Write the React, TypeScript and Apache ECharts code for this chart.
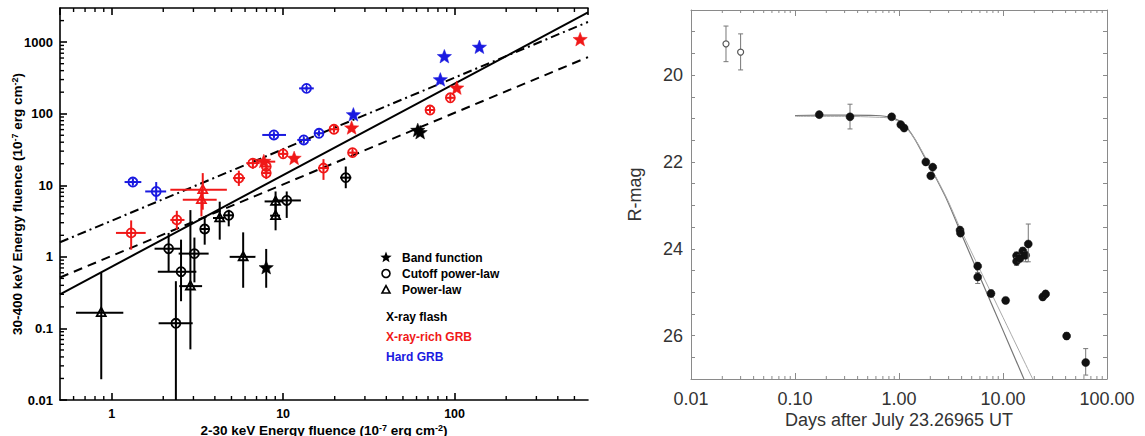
import React, { useEffect, useRef } from 'react';
import * as echarts from 'echarts';

// ---------- Left panel data: [x, y, xLow, xHigh, yLow, yHigh] ----------
const xrfBand = [
  [7.97, 0.7, 7.6, 8.3, 0.37, 1.29],
  [61, 58, 59, 63, 55, 61],
  [63, 54, 61, 65, 51, 57],
];
const xrfCutoff = [
  [2.37, 0.118, 1.88, 2.97, 0.01, 0.457],
  [2.54, 0.62, 1.86, 3.12, 0.24, 1.74],
  [2.15, 1.3, 1.78, 2.55, 0.63, 2.16],
  [3.04, 1.11, 2.46, 3.68, 0.44, 1.86],
  [3.49, 2.45, 3.3, 3.7, 1.48, 3.68],
  [4.82, 3.8, 4.47, 5.16, 2.67, 4.55],
  [10.5, 6.14, 8.8, 12.7, 3.5, 8.2],
  [23.2, 12.8, 21.5, 25, 9.1, 18.3],
];
const xrfPowerLaw = [
  [0.87, 0.166, 0.62, 1.17, 0.0195, 0.6],
  [2.88, 0.39, 2.48, 3.37, 0.051, 4.5],
  [4.27, 3.49, 3.9, 4.55, 1.74, 5.9],
  [5.85, 1.0, 4.88, 6.9, 0.37, 2.2],
  [9.04, 5.95, 7.8, 9.97, 4.1, 8.2],
  [9.04, 3.76, 8.4, 9.6, 2.35, 5.65],
];
const richBand = [
  [7.72, 21.4, 7.06, 9.0, 19, 24],
  [11.6, 23.6, 11, 12.2, 21.5, 26],
  [25.1, 62.7, 24, 26.5, 57, 69],
  [103, 226, 98, 108, 210, 242],
  [540, 1077, 520, 560, 1020, 1140],
];
const richCutoff = [
  [1.3, 2.16, 1.06, 1.58, 1.26, 3.23],
  [2.4, 3.28, 2.2, 2.66, 2.4, 4.4],
  [5.52, 12.6, 5.1, 6.0, 9.8, 16],
  [6.66, 20.4, 6.1, 7.3, 17, 24],
  [7.98, 18.3, 7.5, 8.5, 16, 21],
  [7.98, 14.8, 7.6, 8.4, 12.2, 16.8],
  [10.0, 27.5, 9.4, 10.6, 24.5, 31],
  [17.2, 17.4, 16, 18.5, 11.9, 23.2],
  [25.4, 28.6, 24, 27, 26, 31.5],
  [19.8, 60.6, 18.6, 21, 55, 67],
  [71.9, 112.6, 68, 76, 102, 124],
  [94.5, 167, 90, 99, 152, 184],
];
const richPowerLaw = [
  [3.4, 8.65, 2.2, 4.7, 4.56, 14.8],
  [3.34, 6.28, 2.6, 4.1, 3.68, 8.9],
];
const hardBand = [
  [25.7, 95.9, 25.7, 25.7, 95.9, 95.9],
  [82.6, 295, 82.6, 82.6, 295, 295],
  [87.2, 622, 87.2, 87.2, 622, 622],
  [139.6, 841, 139.6, 139.6, 841, 841],
];
const hardCutoff = [
  [1.33, 11.1, 1.19, 1.49, 10, 12.3],
  [1.82, 8.2, 1.57, 2.08, 6.1, 11.1],
  [8.84, 50.5, 7.56, 10.4, 46, 55],
  [13.7, 226, 12.4, 15.1, 210, 243],
  [13.2, 43, 12.1, 14.5, 39, 47],
  [16.2, 53.3, 15.3, 17.2, 49, 58],
];

// fitted relations (end points)
const fitSolid = [[0.5, 0.3], [600, 2600]];
const fitDashed = [[0.5, 0.515], [600, 617]];
const fitDashDot = [[0.5, 1.6], [600, 1914]];

// tick values
const leftMinorX = [0.6, 0.7, 0.8, 0.9, 2, 3, 4, 5, 6, 7, 8, 9, 20, 30, 40, 50, 60, 70, 80, 90, 200, 300, 400, 500];
const leftMinorY = [0.02, 0.03, 0.04, 0.05, 0.06, 0.07, 0.08, 0.09, 0.2, 0.3, 0.4, 0.5, 0.6, 0.7, 0.8, 0.9,
  2, 3, 4, 5, 6, 7, 8, 9, 20, 30, 40, 50, 60, 70, 80, 90, 200, 300, 400, 500, 600, 700, 800, 900, 2000];
const rightMinorX = [0.02, 0.03, 0.04, 0.05, 0.06, 0.07, 0.08, 0.09, 0.2, 0.3, 0.4, 0.5, 0.6, 0.7, 0.8, 0.9,
  2, 3, 4, 5, 6, 7, 8, 9, 20, 30, 40, 50, 60, 70, 80, 90];

// ---------- Right panel data: [days, mag, magLow, magHigh] ----------
const earlyPoints = [
  [0.0217, 19.28, 18.87, 19.69],
  [0.03, 19.47, 19.05, 19.88],
];
const lightCurve = [
  [0.171, 20.91, 20.84, 20.98],
  [0.338, 20.96, 20.67, 21.24],
  [0.85, 20.96, 20.9, 21.02],
  [1.04, 21.14, 21.08, 21.2],
  [1.12, 21.22, 21.16, 21.28],
  [1.81, 22.0, 21.94, 22.06],
  [2.11, 22.12, 22.06, 22.18],
  [2.02, 22.32, 22.26, 22.38],
  [3.86, 23.57, 23.5, 23.64],
  [3.9, 23.64, 23.57, 23.71],
  [5.71, 24.4, 24.32, 24.48],
  [5.71, 24.65, 24.55, 24.8],
  [7.67, 25.03, 24.95, 25.11],
  [10.6, 25.19, 25.12, 25.26],
  [13.5, 24.16, 24.08, 24.24],
  [13.5, 24.29, 24.2, 24.38],
  [14.6, 24.22, 24.14, 24.3],
  [15.5, 24.05, 23.97, 24.13],
  [16.5, 24.15, 24.07, 24.3],
  [17.5, 23.89, 23.43, 24.3],
  [24.1, 25.11, 25.04, 25.18],
  [25.7, 25.04, 24.97, 25.11],
  [40.9, 26.01, 25.93, 26.09],
  [62.4, 26.62, 26.3, 26.91],
];
const modelA = [[0.1, 20.93], [0.3, 20.92], [0.6, 20.93], [0.85, 20.98], [1.1, 21.12], [1.4, 21.45],
  [1.8, 21.93], [2.3, 22.4], [2.9, 22.88], [4, 23.67], [6, 24.65], [10, 25.88], [15.9, 27]];
const modelB = [[0.1, 20.95], [0.3, 20.95], [0.6, 20.97], [0.85, 21.0], [1.1, 21.15], [1.4, 21.45],
  [1.8, 21.9], [2.3, 22.38], [2.9, 22.85], [4, 23.6], [6, 24.48], [10, 25.58], [19.3, 27]];

const BLACK = '#000';
const RED = '#f01818';
const BLUE = '#1a1ae0';
const FONT = "'Liberation Sans', Arial, Helvetica, sans-serif";

function starPts(cx: number, cy: number, R: number, r: number) {
  const pts: number[][] = [];
  for (let i = 0; i < 10; i++) {
    const a = -Math.PI / 2 + (i * Math.PI) / 5;
    const rad = i % 2 === 0 ? R : r;
    pts.push([cx + rad * Math.cos(a), cy + rad * Math.sin(a)]);
  }
  return pts;
}
function triPts(cx: number, cy: number, s: number) {
  return [[cx, cy - s * 1.1], [cx - s, cy + s * 0.75], [cx + s, cy + s * 0.75]];
}

function markerSeries(data: number[][], color: string, shape: string) {
  return {
    type: 'custom',
    xAxisIndex: 0,
    yAxisIndex: 0,
    silent: true,
    z: 5,
    encode: { x: 0, y: 1 },
    data,
    renderItem: (params: any, api: any) => {
      const x = api.value(0), y = api.value(1);
      const c = api.coord([x, y]);
      const l = api.coord([api.value(2), y]);
      const r = api.coord([api.value(3), y]);
      const b = api.coord([x, api.value(4)]);
      const t = api.coord([x, api.value(5)]);
      const st = { stroke: color, lineWidth: 2, fill: 'none' };
      const children: any[] = [
        { type: 'line', shape: { x1: l[0], y1: c[1], x2: r[0], y2: c[1] }, style: st },
        { type: 'line', shape: { x1: c[0], y1: t[1], x2: c[0], y2: b[1] }, style: st },
      ];
      if (shape === 'circle') {
        children.push({ type: 'circle', shape: { cx: c[0], cy: c[1], r: 4.5 }, style: { stroke: color, lineWidth: 1.8, fill: 'none' } });
        children.push({ type: 'line', shape: { x1: c[0] - 4.5, y1: c[1], x2: c[0] + 4.5, y2: c[1] }, style: { stroke: color, lineWidth: 1.2 } });
        children.push({ type: 'line', shape: { x1: c[0], y1: c[1] - 4.5, x2: c[0], y2: c[1] + 4.5 }, style: { stroke: color, lineWidth: 1.2 } });
      } else if (shape === 'triangle') {
        children.push({ type: 'polygon', shape: { points: triPts(c[0], c[1], 4.5) }, style: { stroke: color, lineWidth: 1.8, fill: 'none' } });
      } else {
        children.push({ type: 'polygon', shape: { points: starPts(c[0], c[1], 7.5, 3.2) }, style: { fill: color, stroke: color, lineWidth: 0.5 } });
      }
      return { type: 'group', children };
    },
  };
}

function isDecade(v: number) {
  const lg = Math.log10(v);
  return Math.abs(lg - Math.round(lg)) < 1e-6;
}
function decadeLabel(v: number) {
  if (!isDecade(v)) return '';
  const n = Math.round(Math.log10(v));
  if (n >= 0) return String(Math.pow(10, n));
  return (Math.pow(10, n)).toFixed(-n);
}

function tickSeries(values: number[], axis: 'x' | 'y', xi: number, yi: number, len: number, color: string, lw: number, both: boolean) {
  return {
    type: 'custom',
    xAxisIndex: xi,
    yAxisIndex: yi,
    silent: true,
    z: 6,
    encode: { x: 0, y: 1 },
    data: values.map((v) => (axis === 'x' ? [v, yi === 0 ? 1 : 20] : [1, v])),
    renderItem: (params: any, api: any) => {
      const cs = params.coordSys;
      const p = api.coord([api.value(0), api.value(1)]);
      const st = { stroke: color, lineWidth: lw };
      const ch: any[] = [];
      if (axis === 'x') {
        const yb = cs.y + cs.height;
        ch.push({ type: 'line', shape: { x1: p[0], y1: yb, x2: p[0], y2: yb - len }, style: st });
        if (both) ch.push({ type: 'line', shape: { x1: p[0], y1: cs.y, x2: p[0], y2: cs.y + len }, style: st });
      } else {
        ch.push({ type: 'line', shape: { x1: cs.x, y1: p[1], x2: cs.x + len, y2: p[1] }, style: st });
        if (both) ch.push({ type: 'line', shape: { x1: cs.x + cs.width, y1: p[1], x2: cs.x + cs.width - len, y2: p[1] }, style: st });
      }
      return { type: 'group', children: ch };
    },
  };
}

const supRich = {
  n: { fontSize: 13.5, fontWeight: 'bold', fontFamily: FONT, color: BLACK, lineHeight: 14 },
  s: { fontSize: 9, fontWeight: 'bold', fontFamily: FONT, color: BLACK, lineHeight: 8, verticalAlign: 'top' },
};

function buildOption() {
  const leftAxisLine = { show: true, lineStyle: { color: BLACK, width: 1.6 } };
  const rightAxisLine = { show: true, lineStyle: { color: '#8a8a8a', width: 1 } };
  return {
    animation: false,
    backgroundColor: '#fff',
    grid: [
      { left: 60, top: 8, width: 528, height: 392, containLabel: false, outerBoundsMode: 'none' },
      { left: 691, top: 10, width: 416, height: 369, containLabel: false, outerBoundsMode: 'none' },
    ],
    xAxis: [
      {
        type: 'log', gridIndex: 0, min: 0.5, max: 600, position: 'bottom',
        axisLine: leftAxisLine,
        axisTick: { show: true, inside: true, length: 7, lineStyle: { color: BLACK, width: 1.6 } },
        splitLine: { show: false },
        axisLabel: { formatter: decadeLabel, fontSize: 12.5, fontWeight: 'bold', fontFamily: FONT, color: BLACK, margin: 7, showMinLabel: false, showMaxLabel: false },
        name: '{n|2-30 keV Energy fluence (10}{s|-7}{n| erg cm}{s|-2}{n|)}',
        nameLocation: 'middle', nameGap: 23, nameMoveOverlap: false,
        nameTextStyle: { rich: supRich },
      },
      {
        type: 'log', gridIndex: 0, min: 0.5, max: 600, position: 'top',
        axisLine: leftAxisLine,
        axisTick: { show: true, inside: true, length: 7, lineStyle: { color: BLACK, width: 1.6 } },
        splitLine: { show: false },
        axisLabel: { show: false },
      },
      {
        type: 'log', gridIndex: 1, min: 0.01, max: 100, position: 'bottom',
        axisLine: rightAxisLine,
        axisTick: { show: true, inside: true, length: 6, lineStyle: { color: '#8a8a8a', width: 1 } },
        splitLine: { show: false },
        axisLabel: { formatter: (v: number) => (isDecade(v) ? v.toFixed(2) : ''), fontSize: 18, fontFamily: FONT, color: '#333', margin: 11 },
        name: 'Days after July 23.26965 UT',
        nameLocation: 'middle', nameGap: 32, nameMoveOverlap: false,
        nameTextStyle: { fontSize: 18, fontFamily: FONT, color: '#333' },
      },
      {
        type: 'log', gridIndex: 1, min: 0.01, max: 100, position: 'top',
        axisLine: rightAxisLine,
        axisTick: { show: true, inside: true, length: 6, lineStyle: { color: '#8a8a8a', width: 1 } },
        splitLine: { show: false },
        axisLabel: { show: false },
      },
    ],
    yAxis: [
      {
        type: 'log', gridIndex: 0, min: 0.01, max: 3000,
        axisLine: leftAxisLine,
        axisTick: { show: true, inside: true, length: 7, lineStyle: { color: BLACK, width: 1.6 } },
        splitLine: { show: false },
        axisLabel: { formatter: decadeLabel, fontSize: 13, fontWeight: 'bold', fontFamily: FONT, color: BLACK, margin: 7, showMaxLabel: false },
        name: '{n|30-400 keV Energy fluence (10}{s|-7}{n| erg cm}{s|-2}{n|)}',
        nameLocation: 'middle', nameGap: 36, nameRotate: 90, nameMoveOverlap: false,
        nameTextStyle: { rich: supRich },
      },
      {
        type: 'value', gridIndex: 1, min: 18.5, max: 27, interval: 0.5, inverse: true, position: 'left',
        axisLine: rightAxisLine,
        axisTick: { show: true, inside: true, length: 4, lineStyle: { color: '#8a8a8a', width: 1 } },
        splitLine: { show: false },
        axisLabel: { interval: 0, formatter: (v: number) => (Math.abs(v % 2) < 1e-9 ? String(v) : ''), fontSize: 18, fontFamily: FONT, color: '#333', margin: 8 },
        name: 'R-mag',
        nameLocation: 'middle', nameGap: 47, nameRotate: 90, nameMoveOverlap: false,
        nameTextStyle: { fontSize: 18, fontFamily: FONT, color: '#333' },
      },
      {
        type: 'value', gridIndex: 1, min: 18.5, max: 27, interval: 0.5, inverse: true, position: 'right',
        axisLine: rightAxisLine,
        axisTick: { show: true, inside: true, length: 4, lineStyle: { color: '#8a8a8a', width: 1 } },
        splitLine: { show: false },
        axisLabel: { show: false },
      },
    ],
    series: [
      { type: 'line', xAxisIndex: 0, yAxisIndex: 0, data: fitSolid, showSymbol: false, silent: true, lineStyle: { color: BLACK, width: 2 } },
      { type: 'line', xAxisIndex: 0, yAxisIndex: 0, data: fitDashed, showSymbol: false, silent: true, lineStyle: { color: BLACK, width: 2, type: [9, 6] } },
      { type: 'line', xAxisIndex: 0, yAxisIndex: 0, data: fitDashDot, showSymbol: false, silent: true, lineStyle: { color: BLACK, width: 2, type: [9, 4, 2, 4] } },
      markerSeries(xrfBand, BLACK, 'star'),
      markerSeries(xrfCutoff, BLACK, 'circle'),
      markerSeries(xrfPowerLaw, BLACK, 'triangle'),
      markerSeries(richCutoff, RED, 'circle'),
      markerSeries(richPowerLaw, RED, 'triangle'),
      markerSeries(richBand, RED, 'star'),
      markerSeries(hardCutoff, BLUE, 'circle'),
      markerSeries(hardBand, BLUE, 'star'),
      tickSeries(leftMinorX, 'x', 0, 0, 4, BLACK, 1.4, true),
      tickSeries(leftMinorY, 'y', 0, 0, 4, BLACK, 1.4, false),
      tickSeries(rightMinorX, 'x', 2, 1, 3, '#8a8a8a', 1, true),
      { type: 'line', xAxisIndex: 2, yAxisIndex: 1, data: modelA, smooth: 0.3, showSymbol: false, silent: true, lineStyle: { color: '#777', width: 1.2 } },
      { type: 'line', xAxisIndex: 2, yAxisIndex: 1, data: modelB, smooth: 0.3, showSymbol: false, silent: true, lineStyle: { color: '#aaa', width: 1 } },
      {
        type: 'custom', xAxisIndex: 2, yAxisIndex: 1, silent: true, z: 5, encode: { x: 0, y: 1 },
        data: earlyPoints,
        renderItem: (params: any, api: any) => {
          const x = api.value(0);
          const c = api.coord([x, api.value(1)]);
          const t = api.coord([x, api.value(2)]);
          const b = api.coord([x, api.value(3)]);
          return {
            type: 'group', children: [
              { type: 'line', shape: { x1: c[0], y1: t[1], x2: c[0], y2: b[1] }, style: { stroke: '#777', lineWidth: 1 } },
              { type: 'line', shape: { x1: c[0] - 2.5, y1: t[1], x2: c[0] + 2.5, y2: t[1] }, style: { stroke: '#777', lineWidth: 1 } },
              { type: 'line', shape: { x1: c[0] - 2.5, y1: b[1], x2: c[0] + 2.5, y2: b[1] }, style: { stroke: '#777', lineWidth: 1 } },
              { type: 'circle', shape: { cx: c[0], cy: c[1], r: 3 }, style: { fill: '#fff', stroke: '#555', lineWidth: 1.2 } },
            ],
          };
        },
      },
      {
        type: 'custom', xAxisIndex: 2, yAxisIndex: 1, silent: true, z: 5, encode: { x: 0, y: 1 },
        data: lightCurve,
        renderItem: (params: any, api: any) => {
          const x = api.value(0);
          const c = api.coord([x, api.value(1)]);
          const t = api.coord([x, api.value(2)]);
          const b = api.coord([x, api.value(3)]);
          return {
            type: 'group', children: [
              { type: 'line', shape: { x1: c[0], y1: t[1], x2: c[0], y2: b[1] }, style: { stroke: '#777', lineWidth: 1 } },
              { type: 'line', shape: { x1: c[0] - 2.5, y1: t[1], x2: c[0] + 2.5, y2: t[1] }, style: { stroke: '#777', lineWidth: 1 } },
              { type: 'line', shape: { x1: c[0] - 2.5, y1: b[1], x2: c[0] + 2.5, y2: b[1] }, style: { stroke: '#777', lineWidth: 1 } },
              { type: 'circle', shape: { cx: c[0], cy: c[1], r: 4 }, style: { fill: '#111', stroke: '#111', lineWidth: 0.5 } },
            ],
          };
        },
      },
    ],
    graphic: [
      { type: 'polygon', shape: { points: starPts(386, 257.5, 6, 2.6) }, style: { fill: BLACK } },
      { type: 'circle', shape: { cx: 386, cy: 273.5, r: 4 }, style: { fill: 'none', stroke: BLACK, lineWidth: 1.6 } },
      { type: 'polygon', shape: { points: triPts(386, 290, 4) }, style: { fill: 'none', stroke: BLACK, lineWidth: 1.6 } },
      { type: 'text', x: 402, y: 257.5, style: { text: 'Band function', fontSize: 12, fontWeight: 'bold', fontFamily: FONT, fill: BLACK, verticalAlign: 'middle' } },
      { type: 'text', x: 402, y: 273.5, style: { text: 'Cutoff power-law', fontSize: 12, fontWeight: 'bold', fontFamily: FONT, fill: BLACK, verticalAlign: 'middle' } },
      { type: 'text', x: 402, y: 289.5, style: { text: 'Power-law', fontSize: 12, fontWeight: 'bold', fontFamily: FONT, fill: BLACK, verticalAlign: 'middle' } },
      { type: 'text', x: 386, y: 316.5, style: { text: 'X-ray flash', fontSize: 12, fontWeight: 'bold', fontFamily: FONT, fill: BLACK, verticalAlign: 'middle' } },
      { type: 'text', x: 386, y: 336.5, style: { text: 'X-ray-rich GRB', fontSize: 12, fontWeight: 'bold', fontFamily: FONT, fill: RED, verticalAlign: 'middle' } },
      { type: 'text', x: 386, y: 357, style: { text: 'Hard GRB', fontSize: 12, fontWeight: 'bold', fontFamily: FONT, fill: BLUE, verticalAlign: 'middle' } },
    ],
  };
}

export default function App() {
  const ref = useRef<HTMLDivElement>(null);
  useEffect(() => {
    document.body.style.margin = '0';
    const chart = echarts.init(ref.current as HTMLDivElement, null, { renderer: 'svg' });
    chart.setOption(buildOption() as any);
    return () => chart.dispose();
  }, []);
  return <div ref={ref} style={{ width: 1145, height: 436, background: '#fff' }} />;
}
